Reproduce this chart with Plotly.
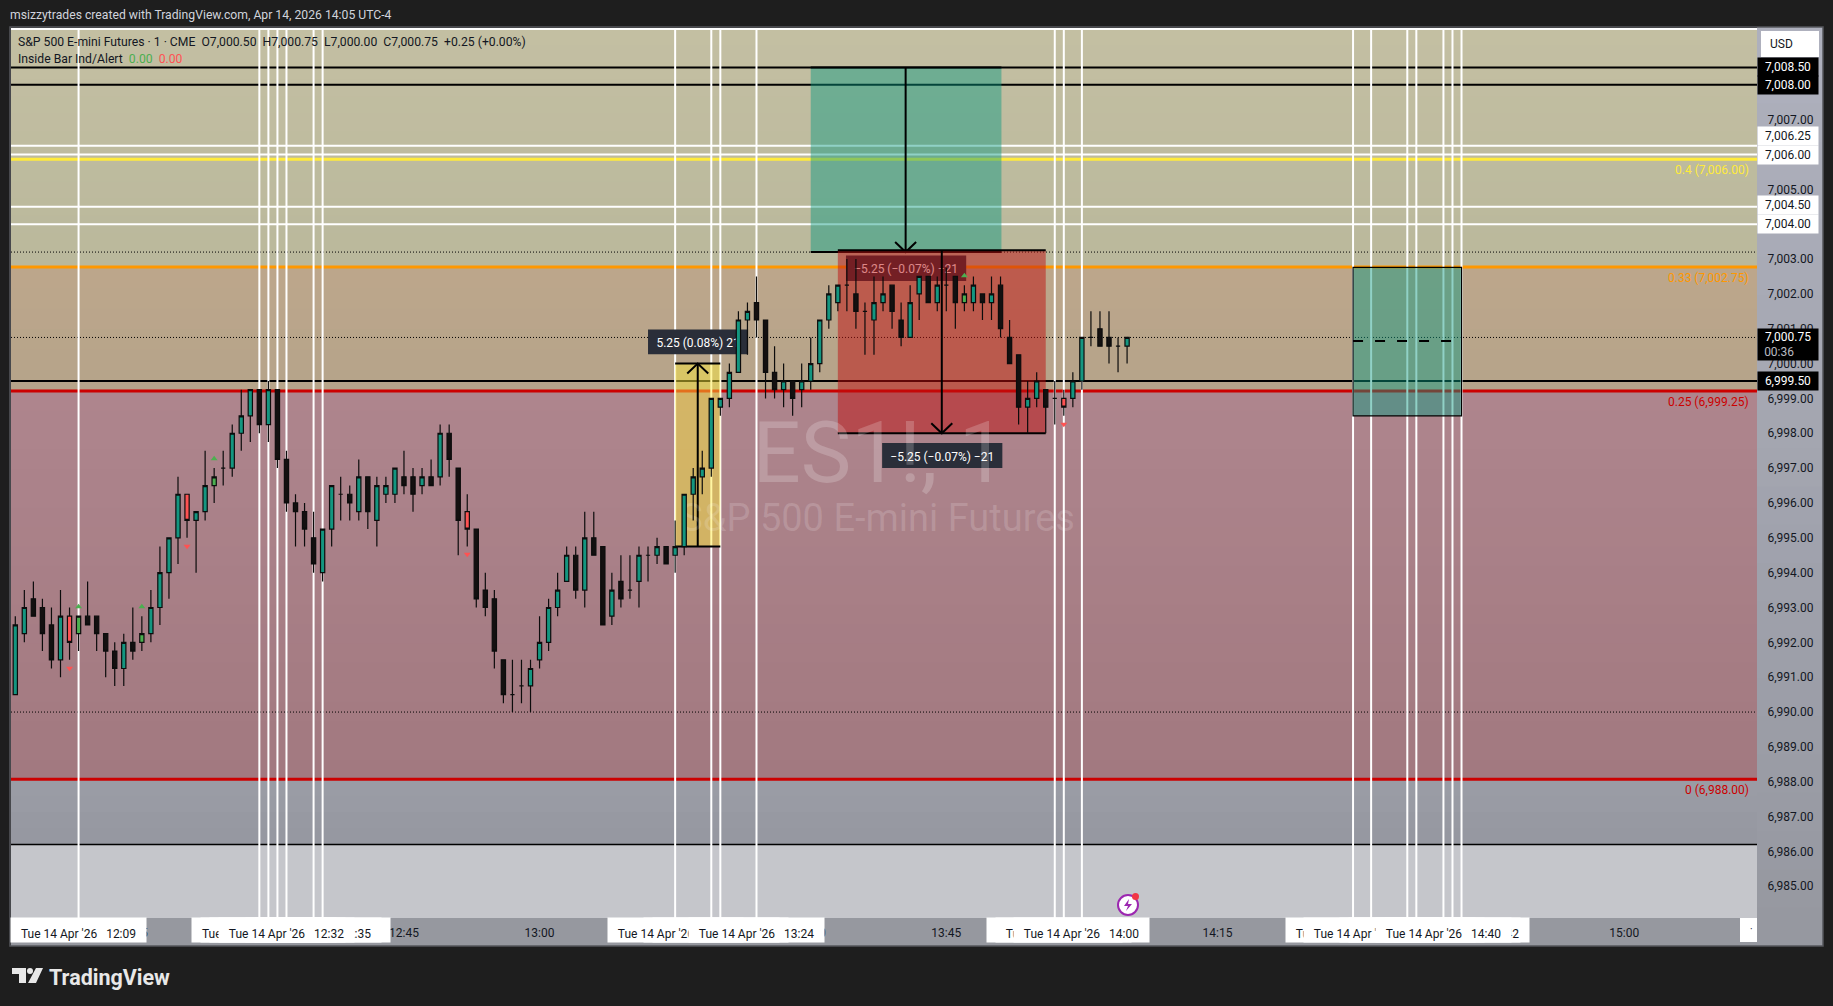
import pandas as pd
import plotly.graph_objects as go

# one minute bars, ES1! 14 Apr 2026
START = pd.Timestamp("2026-04-14 12:02")

opens = [
    6990.5, 6992.25, 6993.25, 6993, 6992.5, 6991.5, 6992.75, 6992.25, 6992.75, 6992.75,
    6992.25, 6991.75, 6991.25, 6992, 6992, 6992.25, 6993, 6994, 6995, 6996.25,
    6995.5, 6995.75, 6996.5, 6997, 6997, 6998, 6998.5, 6999.25, 6998.25, 6999.25,
    6997.25, 6996, 6995.75, 6995, 6994, 6995.25, 6996.25, 6996.25, 6995.75, 6996.75,
    6995.5, 6996.25, 6996.25, 6996.75, 6996.75, 6996.5, 6996.75, 6996.75, 6998, 6997,
    6995.75, 6995.25, 6993.5, 6993.25, 6991.5, 6990.5, 6990.75, 6990.75, 6991.5, 6992,
    6993, 6993.75, 6994.5, 6993.5, 6995, 6994.75, 6992.75, 6993.75, 6993.5, 6993.75,
    6994.5, 6994.5, 6994.75, 6994.5, 6994.75, 6996.25, 6996.75, 6997, 6998.75, 6999,
    6999.75, 7001.25, 7001.75, 7001.25, 6999.75, 6999.25, 6999.5, 6999.25, 6999.5, 7000,
    7001.25, 7001.75, 7002.25, 7002, 7001.5, 7001.25, 7001.75, 7002.25, 7001.25, 7000.75,
    7002, 7002.5, 7001.75, 7002.25, 7002.5, 7001.75, 7001.75, 7002, 7001.75, 7002.25,
    7000.75, 7000.25, 6998.75, 6999, 6999.25, 6999, 6999, 6999, 6999.5, 7000.75,
    7001, 7000.75, 7000.5, 7000.5,
]
highs = [
    6992.75, 6993.5, 6993.75, 6993.25, 6993, 6993.5, 6993, 6992.75, 6993.75, 6992.75,
    6992.25, 6992, 6992.25, 6993, 6992.75, 6993.5, 6994.75, 6995, 6996.75, 6996.25,
    6995.75, 6997.5, 6997, 6997.5, 6998.25, 6999.25, 6999.25, 6999.25, 6999.5, 6999.25,
    6997.5, 6996.25, 6996, 6995.75, 6995.25, 6996.5, 6996.75, 6996.5, 6997.25, 6996.75,
    6996.75, 6996.75, 6997, 6997.5, 6997, 6997, 6997.25, 6998.25, 6998.25, 6997,
    6996.25, 6995.25, 6994, 6993.5, 6991.5, 6991.5, 6991.5, 6991.5, 6992.75, 6993.25,
    6994, 6994.75, 6994.75, 6995.75, 6995.75, 6994.75, 6994, 6994.5, 6994.5, 6994.75,
    6994.75, 6995, 6994.75, 6995.5, 6996.25, 6997, 6997.5, 6999, 6999, 7000,
    7001.5, 7001.75, 7002.5, 7001.25, 7000.5, 7000, 6999.5, 7000, 7000.75, 7001.25,
    7002.25, 7002.25, 7003, 7003, 7001.75, 7002.5, 7002.5, 7002.25, 7001.75, 7002.25,
    7002.5, 7002.5, 7002.5, 7002.75, 7002.5, 7002.25, 7002.5, 7002, 7002.5, 7002.5,
    7001.25, 7000.25, 6999.5, 6999.75, 6999.25, 6999.5, 6999.25, 6999.75, 7000.75, 7001.5,
    7001.5, 7001.5, 7000.75, 7000.75,
]
lows = [
    6990.5, 6992, 6992.75, 6991.75, 6991.25, 6991, 6991.5, 6991.75, 6992.5, 6991.75,
    6991, 6990.75, 6990.75, 6991.5, 6991.75, 6992, 6992.5, 6993.25, 6994.25, 6995,
    6994, 6995.5, 6996, 6996.5, 6996.75, 6997.5, 6997.75, 6998, 6997.75, 6997,
    6995.75, 6994.75, 6994.75, 6994, 6993.75, 6994.75, 6995.5, 6995.5, 6995.5, 6995.25,
    6994.75, 6996, 6996, 6996.25, 6995.75, 6996.25, 6996.5, 6996.5, 6996.75, 6994.5,
    6994.75, 6993, 6992.75, 6991.25, 6990.25, 6990, 6990.25, 6990, 6991.25, 6991.75,
    6992.75, 6993.75, 6993.25, 6993, 6994.5, 6992.5, 6992.5, 6993, 6993.25, 6993,
    6993.75, 6994.25, 6994.25, 6994, 6994.5, 6995.5, 6996.25, 6996.75, 6998.5, 6998.75,
    6999.75, 7000.25, 7000.75, 6999, 6999, 6998.75, 6998.5, 6998.75, 6999.25, 6999.75,
    7001, 7001.5, 7001.5, 7001, 7000.25, 7000.25, 7001.5, 7001, 7000.5, 7000.75,
    7001.25, 7001.75, 7001.5, 7001.5, 7001, 7001.5, 7001.5, 7001.25, 7001.25, 7000.75,
    7000, 6998.25, 6998, 6998.75, 6998, 6998.25, 6998.5, 6998.75, 6999.25, 7000.5,
    7000.5, 7000, 6999.75, 7000,
]
closes = [
    6992.5, 6993, 6992.75, 6992.25, 6991.5, 6992.75, 6992, 6992.75, 6992.5, 6992.25,
    6991.75, 6991.25, 6992, 6991.75, 6992.25, 6993, 6994, 6995, 6996.25, 6995.5,
    6995.75, 6996.5, 6996.75, 6997, 6998, 6998.5, 6999.25, 6998.25, 6999.25, 6997.25,
    6996, 6995.75, 6995.25, 6994.25, 6995.25, 6996.5, 6996.25, 6996, 6996.75, 6995.75,
    6996.5, 6996.5, 6997, 6996.5, 6996.25, 6996.75, 6996.5, 6998, 6997.25, 6995.5,
    6995.25, 6993.25, 6993, 6991.75, 6990.5, 6990.5, 6990.75, 6991.25, 6992, 6993,
    6993.5, 6994.5, 6993.5, 6995, 6994.5, 6992.5, 6993.5, 6993.25, 6993.5, 6994.5,
    6994.5, 6994.75, 6994.25, 6994.75, 6996.25, 6996.75, 6997, 6999, 6999, 6999.75,
    7001.25, 7001.5, 7001.25, 6999.75, 6999.25, 6999.5, 6999, 6999.5, 7000, 7001.25,
    7002, 7002.25, 7002.25, 7001.5, 7001.5, 7001.75, 7002, 7001.5, 7000.75, 7001.75,
    7002.5, 7001.75, 7002.25, 7002.25, 7001.75, 7002, 7002.25, 7001.75, 7002, 7001,
    7000, 6998.75, 6999, 6999.5, 6998.75, 6999, 6998.75, 6999.5, 7000.75, 7000.75,
    7000.5, 7000.5, 7000.5, 7000.75,
]

# inside bars painted by the indicator
red_bars = [6, 19, 50, 116]
green_bars = [7, 14, 22, 105]
alert_down_bars = [6, 19, 50, 116]
alert_down_prices = [6991.26, 6994.76, 6994.53, 6998.26]
alert_up_bars = [7, 14, 22, 105]
alert_up_prices = [6993.02, 6993.02, 6997.27, 7002.52]

# drawn levels
black_levels = [7008.5, 7008.0, 6999.5]
white_levels = [7006.25, 7006.0, 7004.5, 7004.0, 7009.6]
dotted_levels = [7003.2, 7000.75, 6990.0]
fib_levels = [7005.86, 7002.77, 6999.21, 6988.07]
fib_labels = ["0.4 (7,006.00)", "0.33 (7,002.75)", "0.25 (6,999.25)", "0 (6,988.00)"]
fib_colors = ["#ffeb3b", "#ff9800", "#cc0000", "#cc0000"]
low_line = 6986.2

vline_bars = [7, 27, 28, 29, 30, 33, 34, 73, 77, 78, 82, 115, 116, 118,
              148, 150, 154, 155, 158, 159, 160]
# stacking order of the time tags, bottom one first
tag_bars = [7, 34, 33, 29, 28, 27, 30, 77, 78, 73, 82, 115, 116, 118,
            154, 155, 159, 160, 148, 150, 158]

price_ticks = [7008 - i for i in range(24)]
time_ticks = ["12:15", "12:30", "12:45", "13:00", "13:15", "13:30", "13:45",
              "14:00", "14:15", "14:30", "14:45", "15:00"]

FONT = "Roboto"
BG = "#1e1e1e"
TEAL = "#149680"
BLACK = "#131010"
LINE = "#0c0c0c"

# picture geometry of the pane
LEFT, RIGHT, TOP, BOTTOM = 11, 1757, 28, 918
Y_MIN, Y_MAX = 6984.09, 7009.63
X_MIN, X_MAX = -0.476, 192.69


def at(i):
    return START + pd.Timedelta(minutes=float(i))


def fx(x):
    return (x - LEFT) / (RIGHT - LEFT)


def fy(y):
    return (BOTTOM - y) / (BOTTOM - TOP)


def fade(c0, c1, n):
    out = []
    for k in range(n):
        t = k / max(n - 1, 1)
        rgb = [round(a + (b - a) * t) for a, b in zip(c0, c1)]
        out.append(f"rgb({rgb[0]},{rgb[1]},{rgb[2]})")
    return out


def band(shapes, top, bottom, c0, c1, n=14):
    # each strip runs to the bottom of the zone so no seams show between them
    step = (top - bottom) / n
    for k, c in enumerate(fade(c0, c1, n)):
        shapes.append(dict(type="rect", xref="x", yref="y", layer="below",
                           x0=at(X_MIN), x1=at(X_MAX), y0=top - k * step, y1=bottom,
                           fillcolor=c, line_width=0))


def hline(shapes, price, color, width, dash="solid"):
    shapes.append(dict(type="line", xref="x", yref="y", layer="below",
                       x0=at(X_MIN), x1=at(X_MAX), y0=price, y1=price,
                       line=dict(color=color, width=width, dash=dash)))


def box(shapes, i0, i1, p0, p1, fill, text=None, size=12, color="white", outline=0):
    s = dict(type="rect", xref="x", yref="y", layer="below",
             x0=at(i0), x1=at(i1), y0=p0, y1=p1, fillcolor=fill,
             line=dict(color="black", width=outline))
    if text:
        s["label"] = dict(text=text, textposition="middle center",
                          font=dict(family=FONT, size=size, color=color))
    shapes.append(s)


def arrow(shapes, i, p_from, p_to, i0, i1):
    xm = at(i)
    shapes.append(dict(type="line", xref="x", yref="y", layer="below", x0=xm, x1=xm,
                       y0=p_from, y1=p_to, line=dict(color="black", width=2)))
    for p in (p_from, p_to):
        shapes.append(dict(type="line", xref="x", yref="y", layer="below", x0=at(i0), x1=at(i1),
                           y0=p, y1=p, line=dict(color="black", width=2)))
    arm = -10 if p_to > p_from else 10
    shapes.append(dict(type="path", xref="x", yref="y", layer="below",
                       xsizemode="pixel", ysizemode="pixel", xanchor=xm, yanchor=p_to,
                       path=f"M-10.5,{arm} L0,0 L10.5,{arm}",
                       fillcolor="rgba(0,0,0,0)", line=dict(color="black", width=2)))


shapes = []
band(shapes, Y_MAX, 7002.77, (195, 191, 162), (186, 184, 156))
band(shapes, 7002.77, 6999.21, (188, 166, 139), (182, 164, 138), 6)
band(shapes, 6999.21, 6988.07, (174, 133, 141), (162, 121, 128), 20)
band(shapes, 6988.07, low_line, (154, 156, 165), (150, 152, 161), 4)
band(shapes, low_line, Y_MIN, (197, 198, 203), (197, 198, 203), 1)

for p in dotted_levels:
    hline(shapes, p, "#000000", 1, "1px,2px")
for p in white_levels:
    hline(shapes, p, "white", 2)
for p, c in zip(fib_levels, fib_colors):
    hline(shapes, p, c, 3)
for p in black_levels:
    hline(shapes, p, "black", 2)
hline(shapes, low_line, "black", 1.4)

for i in vline_bars:
    shapes.append(dict(type="line", xref="x", yref="y", layer="below", x0=at(i), x1=at(i),
                       y0=Y_MIN, y1=Y_MAX, line=dict(color="white", width=2)))

# top measure and its label, the short box sits over that label
box(shapes, 88, 109.1, 7003.2, 7008.5, "rgba(8,153,129,0.45)")
box(shapes, 91.9, 105.2, 7003.1, 7002.37, "#2a2e39", "\u22125.25 (\u22120.07%) \u221221")
arrow(shapes, 98.5, 7008.5, 7003.2, 88, 109.1)
box(shapes, 91, 114, 7003.25, 6998, "rgba(190,15,15,0.5)")
arrow(shapes, 102.5, 7003.25, 6998, 91, 114)
box(shapes, 95.9, 109.2, 6997.72, 6997.0, "#2a2e39", "\u22125.25 (\u22120.07%) \u221221")

# long measure
box(shapes, 73, 78, 6994.75, 7000, "rgba(255,235,59,0.47)")
box(shapes, 70, 81.07, 7000.98, 7000.27, "#2a2e39", "5.25 (0.08%) 21")
arrow(shapes, 75.5, 6994.75, 7000, 73, 78)

# right hand box
box(shapes, 148, 160, 6998.5, 7002.76, "rgba(8,153,129,0.45)", outline=1.2)
shapes.append(dict(type="line", xref="x", yref="y", layer="below", x0=at(148), x1=at(158.9),
                   y0=7000.65, y1=7000.65, line=dict(color="black", width=2, dash="10px,12px")))

# symbol watermark, has to stay under the candles
box(shapes, 81.6, 109.6, 6998.8, 6996.4, "rgba(0,0,0,0)", "ES1!, 1", 85, "rgba(255,255,255,0.2)")
box(shapes, 72.4, 118.4, 6996.4, 6994.9, "rgba(0,0,0,0)", "S&amp;P 500 E-mini Futures", 38, "rgba(255,255,255,0.16)")

# panes around the chart
panel = fade((174, 176, 189), (150, 152, 160), 24)
step = (946 - 27) / len(panel)
for k, c in enumerate(panel):
    shapes.append(dict(type="rect", xref="paper", yref="paper", layer="below",
                       x0=fx(RIGHT), x1=fx(1823), y0=fy(27 + k * step), y1=fy(946),
                       fillcolor=c, line_width=0))
shapes.append(dict(type="rect", xref="paper", yref="paper", layer="below",
                   x0=fx(LEFT), x1=fx(RIGHT), y0=fy(BOTTOM), y1=fy(946), fillcolor="#96989f", line_width=0))
shapes.append(dict(type="rect", xref="paper", yref="paper", layer="below",
                   x0=fx(1761), x1=fx(1819), y0=fy(31), y1=fy(57), fillcolor="white", line_width=0))
shapes.append(dict(type="rect", xref="paper", yref="paper", layer="below",
                   x0=fx(1740), x1=fx(RIGHT), y0=fy(BOTTOM), y1=fy(942), fillcolor="white", line_width=0))
shapes.append(dict(type="rect", xref="paper", yref="paper", layer="above",
                   x0=fx(10), x1=fx(1823), y0=fy(27), y1=fy(946), line=dict(color="#55575c", width=1.5)))

# TradingView mark
for pts in ([(12, 968), (26, 968), (26, 983), (19, 983), (19, 974), (12, 974)],
            [(36, 968), (43, 968), (36, 983), (28, 983)]):
    d = "M" + " L".join(f"{fx(a)},{fy(b)}" for a, b in pts) + " Z"
    shapes.append(dict(type="path", xref="paper", yref="paper", layer="above", path=d,
                       fillcolor="#e8e8e8", line_width=0))
shapes.append(dict(type="circle", xref="paper", yref="paper", layer="above",
                   x0=fx(27), x1=fx(33), y0=fy(968), y1=fy(974), fillcolor="#e8e8e8", line_width=0))

# alert icon on the time scale
shapes.append(dict(type="circle", xref="paper", yref="paper", layer="above",
                   x0=fx(1118), x1=fx(1138), y0=fy(895), y1=fy(915), fillcolor="white",
                   line=dict(color="#9c27b0", width=2)))
shapes.append(dict(type="path", xref="paper", yref="paper", layer="above",
                   path="M" + " L".join(f"{fx(a)},{fy(b)}" for a, b in [(1129, 899), (1124, 906), (1128, 906), (1126, 911), (1132, 904), (1128, 904)]) + " Z",
                   fillcolor="#9c27b0", line_width=0))
shapes.append(dict(type="circle", xref="paper", yref="paper", layer="above",
                   x0=fx(1132), x1=fx(1139), y0=fy(893), y1=fy(900), fillcolor="#f23645", line_width=0))

bars = pd.DataFrame({"o": opens, "h": highs, "l": lows, "c": closes})
bars["t"] = [at(i) for i in range(len(bars))]
plain = bars.drop(index=red_bars + green_bars)


def candles(df, up, down):
    return go.Candlestick(
        x=df["t"], open=df["o"], high=df["h"], low=df["l"], close=df["c"],
        increasing=dict(fillcolor=up, line=dict(color=LINE, width=1.2)),
        decreasing=dict(fillcolor=down, line=dict(color=LINE, width=1.2)),
        whiskerwidth=0, showlegend=False, hoverinfo="skip",
    )


fig = go.Figure()
fig.add_trace(candles(plain, TEAL, BLACK))
fig.add_trace(candles(bars.loc[red_bars], "#ff5252", "#ff5252"))
fig.add_trace(candles(bars.loc[green_bars], "#4caf50", "#4caf50"))
fig.add_trace(go.Scatter(x=[at(i) for i in alert_down_bars], y=alert_down_prices, mode="markers",
                         marker=dict(symbol="triangle-down", size=6, color="#ff5252"),
                         showlegend=False, hoverinfo="skip"))
fig.add_trace(go.Scatter(x=[at(i) for i in alert_up_bars], y=alert_up_prices, mode="markers",
                         marker=dict(symbol="triangle-up", size=6, color="#4caf50"),
                         showlegend=False, hoverinfo="skip"))

ann = []


def text_at(x, y, text, color="#131722", size=12, anchor="left", **kw):
    ann.append(dict(xref="paper", yref="paper", x=fx(x), y=fy(y), text=text, showarrow=False,
                    xanchor=anchor, yanchor="middle",
                    font=dict(family=FONT, size=size, color=color), **kw))


text_at(8, 15, "msizzytrades created with TradingView.com, Apr 14, 2026 14:05 UTC-4", "#d1d4dc", 12.2)
text_at(16, 41.7, "S&amp;P 500 E-mini Futures \u00b7 1 \u00b7 CME\u00a0\u00a0O7,000.50\u00a0\u00a0H7,000.75\u00a0\u00a0"
        "L7,000.00\u00a0\u00a0C7,000.75\u00a0\u00a0+0.25 (+0.00%)", size=12.2)
text_at(16, 58.7, "Inside Bar Ind/Alert\u00a0\u00a0<span style='color:#4caf50'>0.00</span>"
        "\u00a0\u00a0<span style='color:#ff5252'>0.00</span>", size=12.2)
text_at(47, 977, "<b>TradingView</b>", "#e8e8e8", 21.5)
text_at(1768, 44, "USD", size=12)
text_at(1748, 930, "\u00b7", size=10)

for p, t, c in zip(fib_levels, fib_labels, fib_colors):
    ann.append(dict(xref="paper", yref="y", x=fx(1751), y=p, yshift=-11, text=t, showarrow=False,
                    xanchor="right", yanchor="middle", font=dict(family=FONT, size=12, color=c)))

# price tags: price, shift in pixels, fill, text colour
tags = [(7008.5, 0, "black", "white"), (7008.0, 0, "black", "white"),
        (7006.25, 10, "white", "#131722"), (7006.0, 0, "white", "#131722"),
        (7004.5, 2, "white", "#131722"), (7004.0, 0, "white", "#131722"),
        (6999.5, 0, "black", "white")]
for p, shift, fill, c in tags:
    ann.append(dict(xref="paper", yref="y", x=fx(1788), y=p, yshift=shift, text=f"{p:,.2f}", showarrow=False,
                    width=60, height=18, bgcolor=fill, borderpad=0, xanchor="center", yanchor="middle",
                    font=dict(family=FONT, size=12, color=c)))
ann.append(dict(xref="paper", yref="y", x=fx(1788), y=7000.75, yshift=-7, showarrow=False,
                text="7,000.75<br><span style='color:#b8bac0'>00:36</span>\u00a0\u00a0\u00a0\u00a0\u00a0\u00a0",
                width=60, height=31, bgcolor="black", borderpad=0, xanchor="center", yanchor="middle",
                font=dict(family=FONT, size=12, color="white")))

for i in tag_bars:
    ann.append(dict(xref="x", yref="paper", x=at(i), y=fy(930), showarrow=False,
                    text=f"Tue 14 Apr '26\u00a0\u00a0\u00a0{at(i):%H:%M}",
                    width=133, height=22, bgcolor="white", borderpad=1, valign="bottom",
                    xanchor="center", yanchor="middle",
                    font=dict(family=FONT, size=12, color="#131722")))

fig.update_layout(
    width=1833, height=1006, autosize=False,
    margin=dict(l=LEFT, r=1833 - RIGHT, t=TOP, b=1006 - BOTTOM, pad=0),
    paper_bgcolor=BG, plot_bgcolor="#c5c6cb",
    boxmode="overlay", boxgap=0.33,
    showlegend=False, shapes=shapes, annotations=ann,
    xaxis=dict(
        type="date", range=[at(X_MIN), at(X_MAX)], rangeslider_visible=False, showgrid=False, zeroline=False,
        tickvals=[f"2026-04-14 {t}" for t in time_ticks], ticktext=time_ticks,
        ticks="outside", ticklen=4, tickcolor="rgba(0,0,0,0)",
        tickfont=dict(family=FONT, size=12, color="#131722"),
    ),
    yaxis=dict(
        side="right", range=[Y_MIN, Y_MAX], showgrid=False, zeroline=False,
        tickvals=price_ticks, tickformat=",.2f",
        ticks="outside", ticklen=7, tickcolor="rgba(0,0,0,0)",
        tickfont=dict(family=FONT, size=12, color="#131722"),
    ),
)

fig.write_html("out.html", config={"displayModeBar": False}, post_script="document.body.style.margin='0';")
